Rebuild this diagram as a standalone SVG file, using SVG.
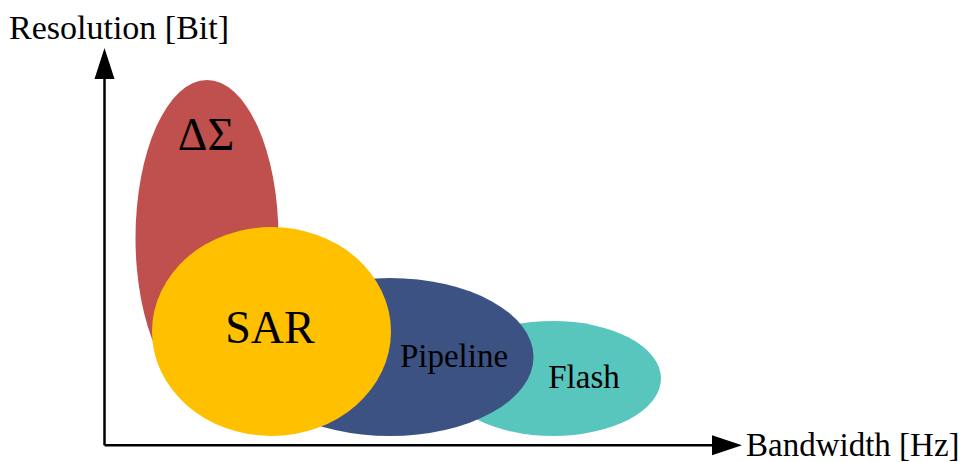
<svg xmlns="http://www.w3.org/2000/svg" width="964" height="462" viewBox="0 0 964 462">
  <defs>
    <style>
      text { font-family: 'Liberation Serif', serif; fill: #000; }
      .axis-label { font-size: 33px; }
      .lbl { font-size: 33px; text-anchor: middle; }
      .axis { stroke: #000; stroke-width: 2.5; fill: none; }
      .head { fill: #000; }
    </style>
  </defs>
  <rect width="964" height="462" fill="#fff"/>

  <!-- converter families, back to front -->
  <g id="delta-sigma">
    <ellipse cx="207" cy="238" rx="71.5" ry="158" fill="#C0504D"/>
    <text class="lbl" x="206" y="150" style="font-size:46px">ΔΣ</text>
  </g>
  <g id="flash">
    <ellipse cx="553" cy="378.5" rx="108" ry="57.5" fill="#59C6BE"/>
    <text class="lbl" x="584" y="388">Flash</text>
  </g>
  <g id="pipeline">
    <ellipse cx="390" cy="357" rx="143.5" ry="79" fill="#3B5283"/>
    <text class="lbl" x="454" y="367">Pipeline</text>
  </g>
  <g id="sar">
    <ellipse cx="271.5" cy="331.5" rx="119.5" ry="104.5" fill="#FFC000"/>
    <text class="lbl" x="270" y="343" style="font-size:46px">SAR</text>
  </g>

  <!-- axes -->
  <g id="axes">
    <path class="axis" d="M104.5 445.3 V76 M104.5 445.3 H714"/>
    <polygon class="head" points="104.5,48 94.5,79 114.5,79"/>
    <polygon class="head" points="742,445.3 712,435.3 712,455.3"/>
    <text class="axis-label" x="9" y="39" style="font-size:34px">Resolution [Bit]</text>
    <text class="axis-label" x="746" y="456">Bandwidth [Hz]</text>
  </g>
</svg>
